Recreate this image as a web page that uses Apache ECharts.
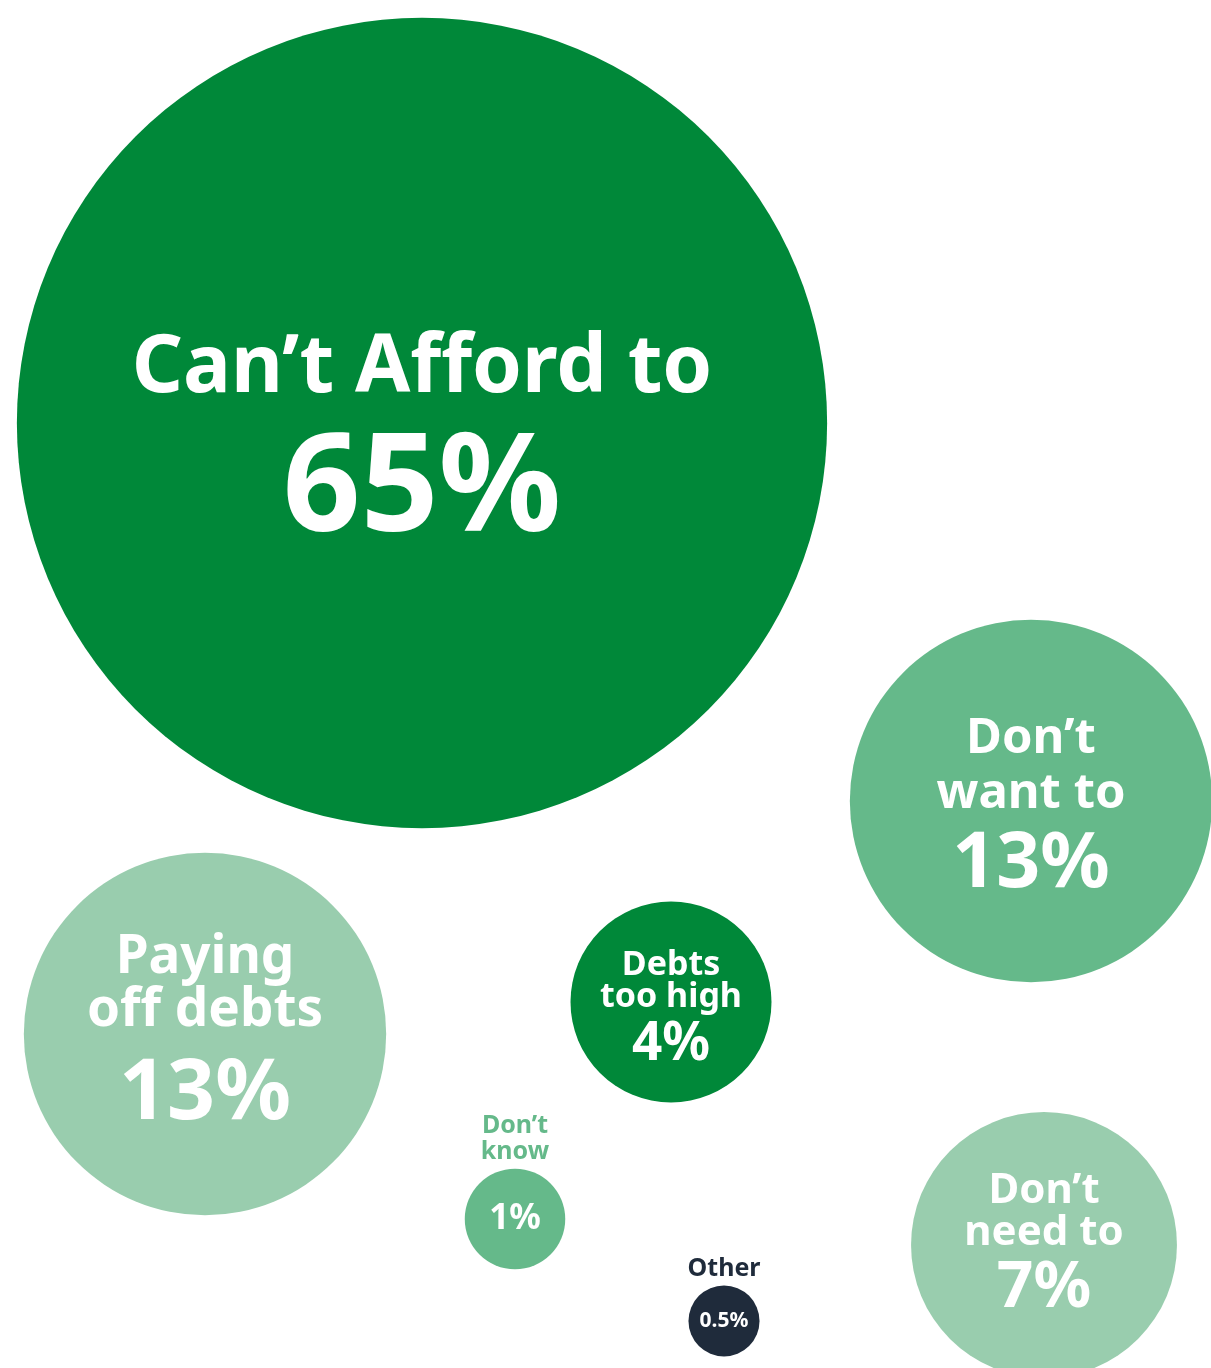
<!DOCTYPE html>
<html>
<head>
<meta charset="utf-8">
<title>Reasons for not saving</title>
<script src="https://cdn.jsdelivr.net/npm/echarts@6/dist/echarts.min.js"></script>
<style>
  html, body { margin: 0; padding: 0; background: #ffffff; }
  #chart { width: 1211px; height: 1368px; }
</style>
</head>
<body>
<div id="chart"></div>
<script>
// Survey answers and their share of respondents (%)
const categories = ['Can’t Afford to', 'Don’t want to', 'Paying off debts', 'Debts too high', 'Don’t know', 'Other', 'Don’t need to'];
const shares = [65, 13, 13, 4, 1, 0.5, 7];
// How each answer's name is broken into lines
const nameLines = [['Can’t Afford to'], ['Don’t', 'want to'], ['Paying', 'off debts'], ['Debts', 'too high'], ['Don’t', 'know'], ['Other'], ['Don’t', 'need to']];

// Bubble placement on a hidden plane, plus the look of each bubble
const layout = [
  { x: 422,  y: 423,  color: '#008839', inside: true,  nameSize: 80, pctSize: 136, nameLH: 122, pctLH: 124, dy: 8 },
  { x: 1031, y: 801,  color: '#65b98a', inside: true,  nameSize: 49, pctSize: 77,  nameLH: 55,  pctLH: 87,  dy: 9 },
  { x: 205,  y: 1034, color: '#99cdae', inside: true,  nameSize: 53, pctSize: 84,  nameLH: 53,  pctLH: 115, dy: 8 },
  { x: 671,  y: 1002, color: '#008839', inside: true,  nameSize: 34, pctSize: 53,  nameLH: 32,  pctLH: 64,  dy: 11 },
  { x: 515,  y: 1219, color: '#65b98a', inside: false, nameSize: 25, pctSize: 35,  nameLH: 26,  pctLH: 38,  dy: 0, capColor: '#65b98a' },
  { x: 724,  y: 1321, color: '#1f2b3b', inside: false, nameSize: 25, pctSize: 21,  nameLH: 26,  pctLH: 24,  dy: 0, capColor: '#1f2b3b' },
  { x: 1044, y: 1245, color: '#99cdae', inside: true,  nameSize: 42, pctSize: 64,  nameLH: 42,  pctLH: 70,  dy: 2 }
];

// Bubble area grows with the share
const SIZE_PER_ROOT = 100.5;
const bubbleSize = v => SIZE_PER_ROOT * Math.sqrt(v);

const FONT = '"Noto Sans", "Open Sans", sans-serif';

const bubbles = categories.map((name, i) => {
  const L = layout[i];
  const pct = shares[i] + '%';
  const rich = {
    n: { fontSize: L.nameSize, lineHeight: L.nameLH, fontWeight: 'bold', color: '#ffffff', fontFamily: FONT },
    p: { fontSize: L.pctSize, lineHeight: L.pctLH, fontWeight: 'bold', color: '#ffffff', fontFamily: FONT }
  };
  const text = L.inside
    ? nameLines[i].map(s => '{n|' + s + '}').join('\n') + '\n{p|' + pct + '}'
    : '{p|' + pct + '}';
  return {
    name: name,
    value: [L.x, L.y, shares[i]],
    itemStyle: { color: L.color, opacity: 1 },
    label: { show: true, position: 'inside', formatter: text, rich: rich, offset: [0, L.dy] }
  };
});

// Names written above the smallest bubbles
const captions = categories.map((name, i) => {
  const L = layout[i];
  if (L.inside) return null;
  return {
    name: name,
    value: [L.x, L.y, shares[i]],
    label: {
      show: true,
      position: 'top',
      distance: 4,
      formatter: nameLines[i].join('\n'),
      fontSize: L.nameSize,
      lineHeight: L.nameLH,
      fontWeight: 'bold',
      fontFamily: FONT,
      color: L.capColor
    }
  };
}).filter(Boolean);

const chart = echarts.init(document.getElementById('chart'), null, { renderer: 'canvas' });
chart.setOption({
  animation: false,
  backgroundColor: '#ffffff',
  grid: { left: 0, right: 0, top: 0, bottom: 0 },
  xAxis: { type: 'value', min: 0, max: 1211, show: false },
  yAxis: { type: 'value', min: 0, max: 1368, inverse: true, show: false },
  series: [
    {
      type: 'scatter',
      name: 'shares',
      clip: false,
      symbol: 'circle',
      symbolSize: d => bubbleSize(d[2]),
      itemStyle: { opacity: 1 },
      emphasis: { disabled: true },
      data: bubbles
    },
    {
      type: 'scatter',
      name: 'captions',
      clip: false,
      silent: true,
      symbol: 'circle',
      symbolSize: d => bubbleSize(d[2]),
      itemStyle: { color: 'rgba(0,0,0,0)', opacity: 1 },
      data: captions
    }
  ]
});
</script>
</body>
</html>
